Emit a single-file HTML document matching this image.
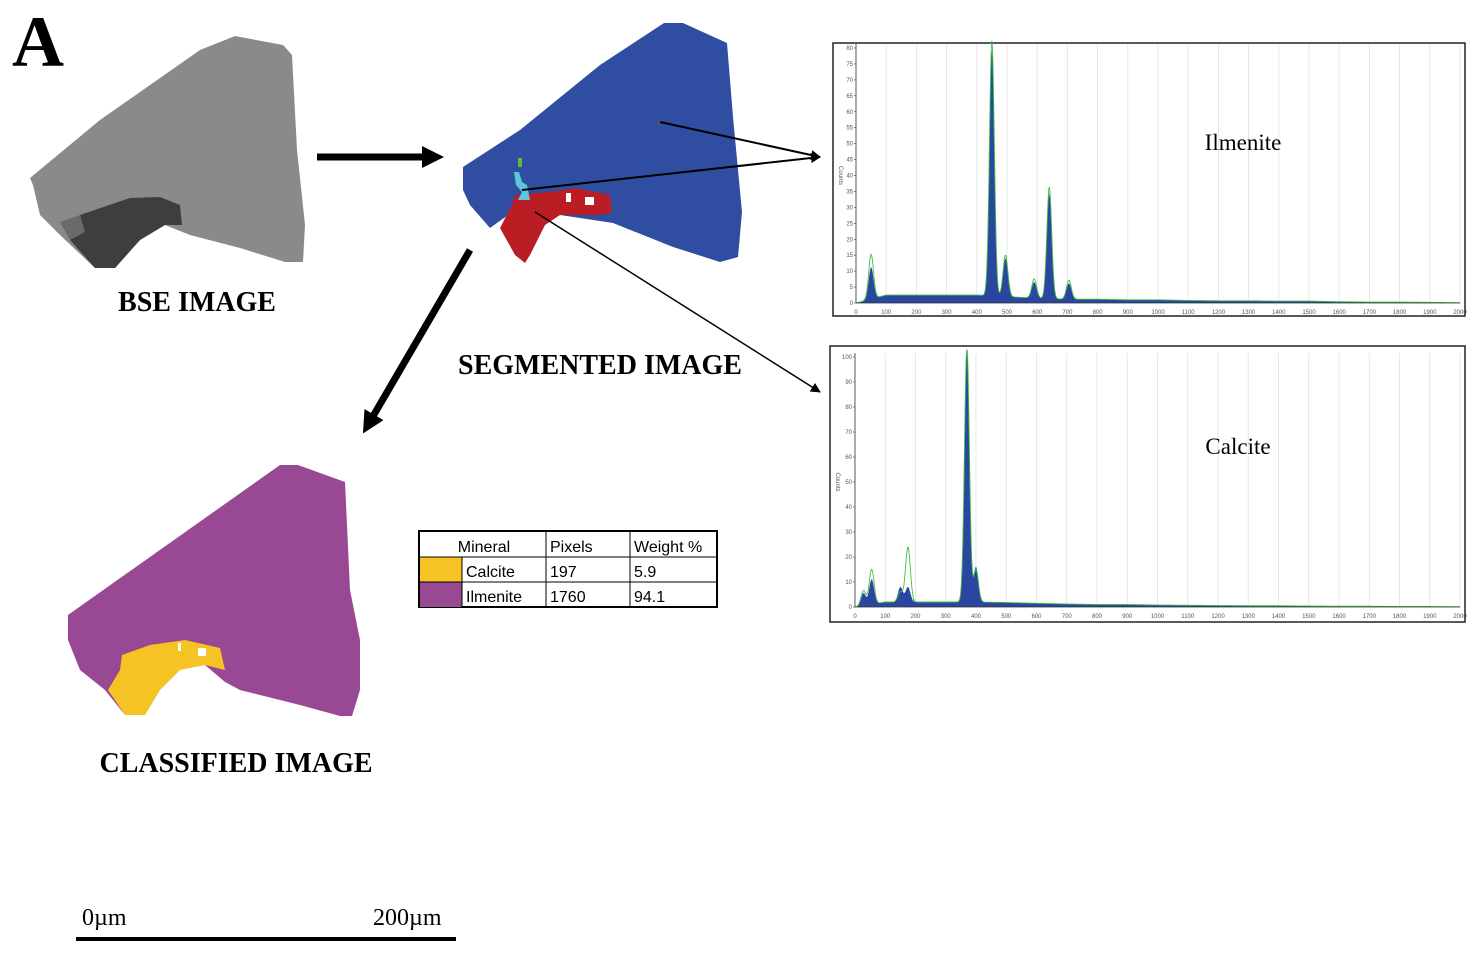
<!DOCTYPE html>
<html><head><meta charset="utf-8"><style>
html,body{margin:0;padding:0;background:#fff;}
svg{display:block;}
.t{font-family:"Liberation Serif",serif;font-weight:bold;fill:#000;}
.tbl{font-family:"Liberation Sans",sans-serif;font-size:16px;fill:#000;}
.tick{font-family:"Liberation Sans",sans-serif;font-size:6px;fill:#555;}
</style></head><body>
<svg id="fig" width="1483" height="975" viewBox="0 0 1483 975" xmlns="http://www.w3.org/2000/svg">
<defs>
<marker id="ah" markerWidth="10" markerHeight="10" refX="9" refY="5" orient="auto" markerUnits="userSpaceOnUse"><path d="M0,0 L10,5 L0,10 z" fill="#000"/></marker>
<marker id="ahb" markerWidth="22" markerHeight="22" refX="4" refY="11" orient="auto" markerUnits="userSpaceOnUse"><path d="M0,0 L22,11 L0,22 z" fill="#000"/></marker>
</defs>
<text x="12" y="66" class="t" font-size="72">A</text>

<g>
<polygon points="30,178 100,120 200,50 235,36 283,45 292,55 297,150 305,225 303,262 285,262 240,248 190,235 165,225 140,240 115,268 95,268 60,235 40,215 33,185" fill="#8a8a8a"/>
<polygon points="80,215 130,198 160,197 180,205 182,225 165,225 140,240 115,268 95,268 70,240" fill="#3e3e3e"/>
<polygon points="60,222 80,215 85,232 70,240" fill="#6a6a6a"/>
</g>
<text x="197" y="311" text-anchor="middle" class="t" font-size="28">BSE IMAGE</text>

<g>
<polygon points="463,167 520,130 600,65 664,23 683,23 727,43 733,117 742,212 738,257 720,262 673,247 613,223 560,215 515,210 490,228 470,205 463,190" fill="#2f4ea1"/>
<polygon points="513,203 515,195 550,192 575,188 610,195 612,213 598,215 560,215 545,225 530,255 525,263 515,255 500,228" fill="#bb1d24"/>
<rect x="566" y="193" width="5" height="9" fill="#fff"/>
<rect x="585" y="197" width="9" height="8" fill="#fff"/>
<polygon points="514,172 519,172 522,182 527,185 530,200 518,200 522,192 516,185" fill="#5ec6d8"/>
<rect x="518" y="158" width="4" height="9" fill="#6ab43a"/>
<text x="660" y="126" font-size="10" fill="#d23" text-anchor="middle" font-family="Liberation Sans">+</text>
</g>
<text x="600" y="374" text-anchor="middle" class="t" font-size="28">SEGMENTED IMAGE</text>

<g>
<polygon points="68,615 280,465 298,465 345,482 350,590 360,640 360,690 352,716 340,716 300,705 240,690 225,682 205,665 180,668 155,690 135,715 125,715 105,690 80,670 68,640" fill="#994893"/>
<polygon points="122,655 150,645 185,640 220,648 225,670 205,665 180,670 160,690 145,715 125,715 108,690 120,670" fill="#f6c325"/>
<rect x="178" y="643" width="3" height="8" fill="#fff"/>
<rect x="198" y="648" width="8" height="8" fill="#fff"/>
</g>
<text x="236" y="772" text-anchor="middle" class="t" font-size="28">CLASSIFIED IMAGE</text>

<g>
<line x1="317" y1="157" x2="426" y2="157" stroke="#000" stroke-width="7" marker-end="url(#ahb)"/>
<line x1="470" y1="250" x2="372" y2="418" stroke="#000" stroke-width="7" marker-end="url(#ahb)"/>
<line x1="660" y1="122" x2="820" y2="157" stroke="#000" stroke-width="2" marker-end="url(#ah)"/>
<line x1="522" y1="190" x2="820" y2="157" stroke="#000" stroke-width="2" marker-end="url(#ah)"/>
<line x1="535" y1="212" x2="820" y2="392" stroke="#000" stroke-width="1.5" marker-end="url(#ah)"/>
</g>

<g>
<rect x="419" y="531" width="298" height="76" fill="#fff" stroke="#000" stroke-width="2"/>
<rect x="420" y="557" width="42" height="25" fill="#f6c325"/>
<rect x="420" y="582" width="42" height="25" fill="#994893"/>
<g stroke="#000" stroke-width="1">
<line x1="419" y1="557" x2="717" y2="557"/><line x1="419" y1="582" x2="717" y2="582"/>
<line x1="462" y1="557" x2="462" y2="607"/><line x1="546" y1="531" x2="546" y2="607"/><line x1="630" y1="531" x2="630" y2="607"/>
</g>
<text x="484" y="552" text-anchor="middle" class="tbl">Mineral</text>
<text x="550" y="552" class="tbl">Pixels</text>
<text x="634" y="552" class="tbl">Weight %</text>
<text x="466" y="577" class="tbl">Calcite</text>
<text x="550" y="577" class="tbl">197</text>
<text x="634" y="577" class="tbl">5.9</text>
<text x="466" y="602" class="tbl">Ilmenite</text>
<text x="550" y="602" class="tbl">1760</text>
<text x="634" y="602" class="tbl">94.1</text>
</g>

<g>
<line x1="76" y1="939" x2="456" y2="939" stroke="#000" stroke-width="4"/>
<text x="82" y="925" font-family="Liberation Serif" font-size="24">0µm</text>
<text x="373" y="925" font-family="Liberation Serif" font-size="24">200µm</text>
</g>

<g id="chart1"></g>
<g id="chart2"></g>
</svg>
<script>
// Ilmenite spectrum
const xTicks = [0,100,200,300,400,500,600,700,800,900,1000,1100,1200,1300,1400,1500,1600,1700,1800,1900,2000];
const ilmYTicks = [0,5,10,15,20,25,30,35,40,45,50,55,60,65,70,75,80];
const ilmBaseline = [0,2.5,2.5,2.5,2.5,2,1.5,1.2,1.2,1,1,0.8,0.7,0.7,0.6,0.6,0.4,0.3,0.3,0.2,0.1];
const ilmPeakE = [50,450,495,590,640,705];
const ilmPeakBlue = [10,77,12,5,33,5];
const ilmPeakGreen = [14,80,13,6,35,6];
// Calcite spectrum
const calYTicks = [0,10,20,30,40,50,60,70,80,90,100];
const calBaseline = [0,2,2,2,2,1.8,1.5,1.2,1,1,0.8,0.7,0.6,0.5,0.5,0.4,0.3,0.3,0.2,0.2,0.1];
const calPeakE = [28,55,150,175,370,400];
const calPeakBlue = [5,10,6,6,100,14];
const calPeakGreen = [6,14,4,22,103,13];

const NS='http://www.w3.org/2000/svg';
function mk(tag, attrs, parent){const e=document.createElementNS(NS,tag);for(const k in attrs)e.setAttribute(k,attrs[k]);parent.appendChild(e);return e;}

function drawChart(g, box, plot, yMax, yTicks, base, pe, pb, pg, label, labelPos, nameP){
  const xs = v => plot.x0 + (v/2000)*(plot.x1-plot.x0);
  const ys = v => plot.y0 - (v/yMax)*(plot.y0-plot.yt);
  const frame = mk('rect',{x:box.x,y:box.y,width:box.w,height:box.h,fill:'#fff',stroke:'#222','stroke-width':1.5},g);
  
  
  xTicks.forEach(t=>{
    const gl = mk('line',{x1:xs(t),x2:xs(t),y1:plot.yt-4,y2:plot.y0,stroke:'#e2e2e2','stroke-width':0.8},g);
    
    
    const tl = mk('text',{x:xs(t),y:plot.y0+11,'text-anchor':'middle',class:'tick'},g);
    tl.textContent=t;
    
    
  });
  yTicks.forEach(t=>{
    const tl = mk('text',{x:plot.x0-3,y:ys(t)+2,'text-anchor':'end',class:'tick'},g);
    tl.textContent=t;
    
    
    mk('line',{x1:plot.x0-2,x2:plot.x0,y1:ys(t),y2:ys(t),stroke:'#444','stroke-width':0.6},g);
  });
  const yt = mk('text',{x:0,y:0,class:'tick',transform:`translate(${box.x+6},${(plot.y0+plot.yt)/2}) rotate(90)`,'text-anchor':'middle'},g);
  yt.textContent='Counts';
  
  
  function val(ch, heights){
    const i=Math.min(19,Math.floor(ch/100)), f=(ch-i*100)/100;
    let v = base[i]*(1-f)+base[i+1]*f;
    pe.forEach((e,k)=>{const d=(ch-e)/8; v+=heights[k]*Math.exp(-d*d/2);});
    return Math.min(v,yMax*1.03);
  }
  let pts=[`${xs(0)},${plot.y0}`], gl=[];
  for(let ch=0; ch<=2000; ch+=2){
    pts.push(`${xs(ch)},${ys(val(ch,pb))}`);
    gl.push(`${xs(ch)},${ys(val(ch,pg))}`);
  }
  pts.push(`${xs(2000)},${plot.y0}`);
  const area = mk('polygon',{points:pts.join(' '),fill:'#2a46a0'},g);
  
  
  const line = mk('polyline',{points:gl.join(' '),fill:'none',stroke:'#3fbf3f','stroke-width':0.9},g);
  
  
  mk('line',{x1:plot.x0,x2:plot.x0,y1:plot.yt-4,y2:plot.y0,stroke:'#333','stroke-width':0.8},g);
  mk('line',{x1:plot.x0,x2:plot.x1,y1:plot.y0,y2:plot.y0,stroke:'#333','stroke-width':0.8},g);
  const lb = mk('text',{x:labelPos[0],y:labelPos[1],'text-anchor':'middle','font-family':'Liberation Serif','font-size':23},g);
  lb.textContent=label;
  
  
}
drawChart(document.getElementById('chart1'),{x:833,y:43,w:632,h:273},{x0:856,x1:1460,y0:303,yt:48},80,ilmYTicks,ilmBaseline,ilmPeakE,ilmPeakBlue,ilmPeakGreen,'Ilmenite',[1243,150],'ilmenite');
drawChart(document.getElementById('chart2'),{x:830,y:346,w:635,h:276},{x0:855,x1:1460,y0:607,yt:357},100,calYTicks,calBaseline,calPeakE,calPeakBlue,calPeakGreen,'Calcite',[1238,454],'calcite');
</script>
</body></html>
